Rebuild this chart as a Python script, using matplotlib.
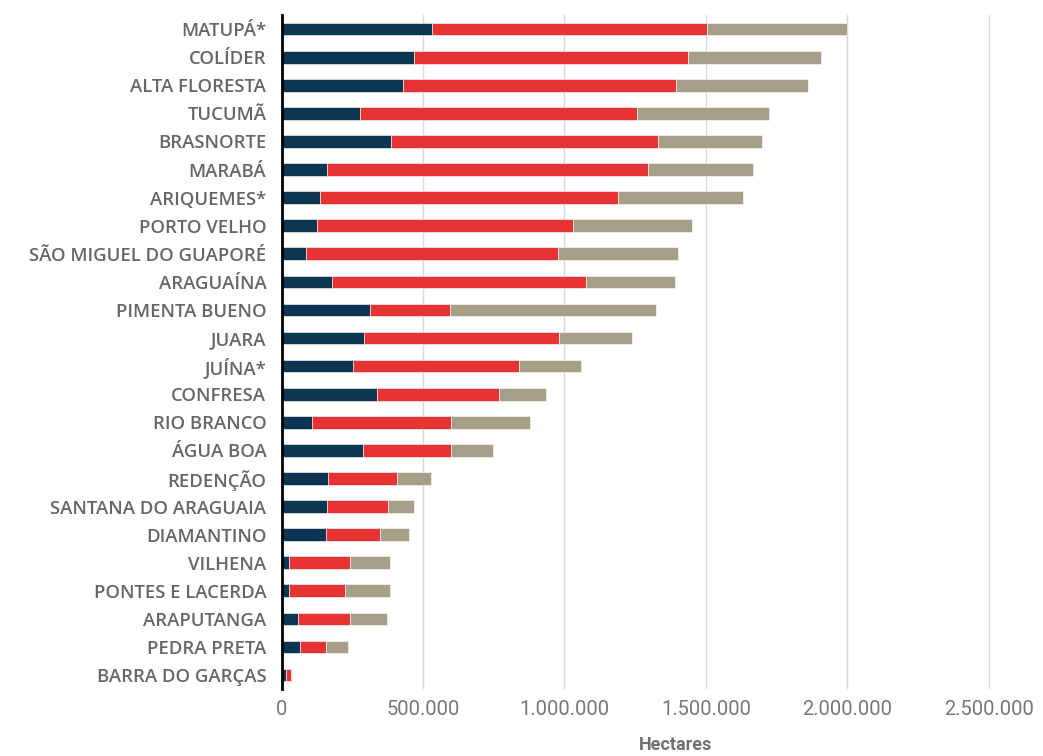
import numpy as np
import matplotlib.pyplot as plt
from matplotlib.ticker import FuncFormatter

# Municípios (de cima para baixo)
municipios = ["MATUPÁ*", "COLÍDER", "ALTA FLORESTA", "TUCUMÃ", "BRASNORTE",
              "MARABÁ", "ARIQUEMES*", "PORTO VELHO", "SÃO MIGUEL DO GUAPORÉ",
              "ARAGUAÍNA", "PIMENTA BUENO", "JUARA", "JUÍNA*", "CONFRESA",
              "RIO BRANCO", "ÁGUA BOA", "REDENÇÃO", "SANTANA DO ARAGUAIA",
              "DIAMANTINO", "VILHENA", "PONTES E LACERDA", "ARAPUTANGA",
              "PEDRA PRETA", "BARRA DO GARÇAS"]

# Hectares por segmento
serie_azul = [530000, 467000, 429000, 277000, 387000, 161000, 136000, 125000,
              87000, 177000, 314000, 291000, 251000, 337000, 106000, 287000,
              165000, 162000, 158000, 27000, 27000, 59000, 66000, 15000]
serie_vermelha = [974000, 970000, 966000, 981000, 945000, 1135000, 1054000, 907000,
                  891000, 901000, 281000, 690000, 588000, 431000, 492000, 311000,
                  243000, 214000, 190000, 214000, 196000, 184000, 92000, 18000]
serie_cinza = [494000, 471000, 466000, 465000, 368000, 372000, 443000, 419000,
               422000, 314000, 728000, 258000, 220000, 167000, 279000, 150000,
               120000, 93000, 102000, 142000, 160000, 131000, 77000, 4000]

cores = ["#0B3551", "#E63333", "#A69E86"]

fig = plt.figure(figsize=(10.43, 7.56), dpi=100)
ax = fig.add_axes([0.270, 0.0886, 0.705, 0.8914])

y = np.arange(len(municipios))
azul = np.array(serie_azul)
verm = np.array(serie_vermelha)
cinza = np.array(serie_cinza)
h = 0.45
ax.barh(y, azul, height=h, color=cores[0], edgecolor="white", linewidth=0.4, zorder=3)
ax.barh(y, verm, left=azul, height=h, color=cores[1], edgecolor="white", linewidth=0.4, zorder=3)
ax.barh(y, cinza, left=azul + verm, height=h, color=cores[2], edgecolor="white", linewidth=0.4, zorder=3)

ax.set_ylim(len(municipios) - 0.5, -0.5)
ax.set_xlim(0, 2600000)
ax.set_xticks([0, 500000, 1000000, 1500000, 2000000, 2500000])
ax.xaxis.set_major_formatter(FuncFormatter(lambda v, p: f"{int(v):,}".replace(",", ".")))
ax.grid(axis="x", color="#d9d9d9", linewidth=1.0, zorder=0)
ax.set_yticks(y)
ax.set_yticklabels(municipios, family=["Open Sans", "DejaVu Sans"], fontsize=13.3,
                   fontweight="semibold", color="#666666")
for lbl in ax.get_xticklabels():
    lbl.set_family(["Roboto", "DejaVu Sans"])
    lbl.set_fontsize(14.5)
    lbl.set_color("#777777")
ax.tick_params(axis="both", length=0)
ax.tick_params(axis="y", pad=11)
ax.tick_params(axis="x", pad=8)

for s in ["top", "right", "bottom"]:
    ax.spines[s].set_visible(False)
ax.spines["left"].set_color("black")
ax.spines["left"].set_linewidth(2)
ax.spines["left"].set_zorder(4)

fig.text(0.648, 0.003, "Hectares", ha="center", va="bottom", fontsize=13,
         fontweight="bold", color="#707070", family=["Roboto", "DejaVu Sans"])

fig.savefig("out.png", dpi=100)
